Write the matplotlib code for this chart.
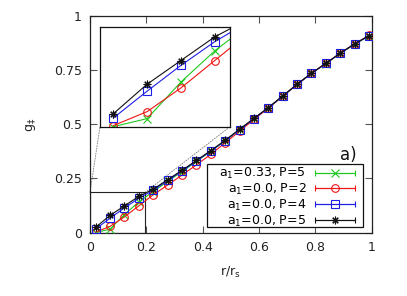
import numpy as np
import matplotlib
matplotlib.use('Agg')
import matplotlib.pyplot as plt
from matplotlib.patches import Rectangle, ConnectionPatch
from matplotlib.legend_handler import HandlerErrorbar

# r / r_s sample points
r = [0.020, 0.071, 0.122, 0.173, 0.224, 0.276, 0.327, 0.378, 0.429, 0.480,
     0.531, 0.582, 0.633, 0.684, 0.735, 0.786, 0.838, 0.889, 0.940, 0.991]

# g values per run
g_a033_p5 = [0.000, 0.015, 0.083, 0.141, 0.189, 0.237, 0.282, 0.329, 0.376, 0.425,
             0.476, 0.527, 0.577, 0.631, 0.685, 0.736, 0.782, 0.829, 0.872, 0.910]
g_a0_p2 = [0.002, 0.028, 0.072, 0.123, 0.174, 0.220, 0.266, 0.313, 0.362, 0.415,
           0.469, 0.523, 0.575, 0.630, 0.685, 0.737, 0.784, 0.831, 0.874, 0.912]
g_a0_p4 = [0.016, 0.066, 0.114, 0.158, 0.195, 0.241, 0.285, 0.331, 0.377, 0.425,
           0.476, 0.527, 0.577, 0.631, 0.685, 0.736, 0.783, 0.830, 0.873, 0.911]
g_a0_p5 = [0.024, 0.079, 0.123, 0.167, 0.200, 0.245, 0.288, 0.334, 0.379, 0.427,
           0.478, 0.528, 0.578, 0.632, 0.686, 0.737, 0.783, 0.830, 0.873, 0.911]

labels = ['a$_1$=0.33, P=5', 'a$_1$=0.0, P=2', 'a$_1$=0.0, P=4', 'a$_1$=0.0, P=5']
colors = ['#1ec81e', '#f01414', '#1e1ee6', '#111111']
markers = ['x', 'o', 's', (8, 2, 0)]

x_ticks = [0, 0.2, 0.4, 0.6, 0.8, 1]
x_ticklabels = ['0', '0.2', '0.4', '0.6', '0.8', '1']
y_ticks = [0, 0.25, 0.5, 0.75, 1]
y_ticklabels = ['0', '0.25', '0.5', '0.75', '1']

zoom_x = (0, 0.196)
zoom_y = (0, 0.186)

plt.rcParams['font.family'] = ['DejaVu Sans']
plt.rcParams['mathtext.fontset'] = 'dejavusans'
plt.rcParams['font.size'] = 9

fig = plt.figure(figsize=(4.07, 2.96), dpi=100)
ax = fig.add_axes([0.2211, 0.2145, 0.692, 0.730])

series = [g_a033_p5, g_a0_p2, g_a0_p4, g_a0_p5]

handles = []
for ys, lab, c, m in zip(series, labels, colors, markers):
    ax.plot(r, ys, color=c, lw=0.8, marker=m, ms=5.5, mew=0.8,
            mfc='none', mec=c, zorder=3)
    # proxy so the legend shows the |--o--| error-bar style key
    h = ax.errorbar([np.nan], [np.nan], xerr=[np.nan], color=c, lw=0.8,
                    marker=m, ms=5.5, mew=0.8, mfc='none', mec=c,
                    capsize=2.5, capthick=0.8, label=lab)
    handles.append(h)

ax.set_xlim(0, 1)
ax.set_ylim(0, 1)
ax.set_xticks(x_ticks)
ax.set_xticklabels(x_ticklabels)
ax.set_yticks(y_ticks)
ax.set_yticklabels(y_ticklabels)
ax.tick_params(direction='in', length=5, width=0.8, color='#555555',
               top=True, right=True, labelsize=9, pad=6, labelcolor='#222222')
for s in ax.spines.values():
    s.set_color('#222222')
    s.set_linewidth(0.9)

ax.set_xlabel('r/r$_\\mathregular{s}$', fontsize=9, labelpad=8, color='#222222')
ax.set_ylabel('g$_\\ddag$', fontsize=9, labelpad=11, color='#222222')

ax.text(0.948, 0.36, 'a)', fontsize=12, ha='right', va='center', color='#111111')

# legend box drawn by hand (gnuplot-style wide padding)
ax.add_patch(Rectangle((0.415, 0.025), 0.554, 0.292, transform=ax.transAxes,
                       facecolor='white', edgecolor='#111111', lw=0.9, zorder=4.5))
leg = ax.legend(handles=handles, loc='lower right', bbox_to_anchor=(0.941, 0.018),
                markerfirst=False, frameon=False,
                fontsize=9, handlelength=3.2, handletextpad=0.7, labelspacing=0.06,
                borderpad=0, borderaxespad=0,
                handler_map={type(handles[0]): HandlerErrorbar(xerr_size=1.6)})

# box marking the zoomed region
ax.add_patch(Rectangle((zoom_x[0], zoom_y[0]), zoom_x[1] - zoom_x[0], zoom_y[1] - zoom_y[0],
                       fill=False, edgecolor='#222222', lw=0.8, zorder=2))

# inset
axins = fig.add_axes([0.2457, 0.572, 0.3194, 0.338])
for ys, c, m in zip(series, colors, markers):
    axins.plot(r, ys, color=c, lw=0.8, marker=m, ms=5.5, mew=0.8,
               mfc='none', mec=c)
axins.set_xlim(*zoom_x)
axins.set_ylim(*zoom_y)
axins.set_xticks([])
axins.set_yticks([])
for s in axins.spines.values():
    s.set_color('#111111')
    s.set_linewidth(0.9)

for xa, xb in [(zoom_x[0], 0), (zoom_x[1], 1)]:
    con = ConnectionPatch(xyA=(xa, zoom_y[1]), coordsA=ax.transData,
                          xyB=(xb, 0), coordsB=axins.transAxes,
                          linestyle=':', color='#888888', lw=0.7, zorder=1)
    ax.add_artist(con)

fig.savefig('out.png', dpi=100)
